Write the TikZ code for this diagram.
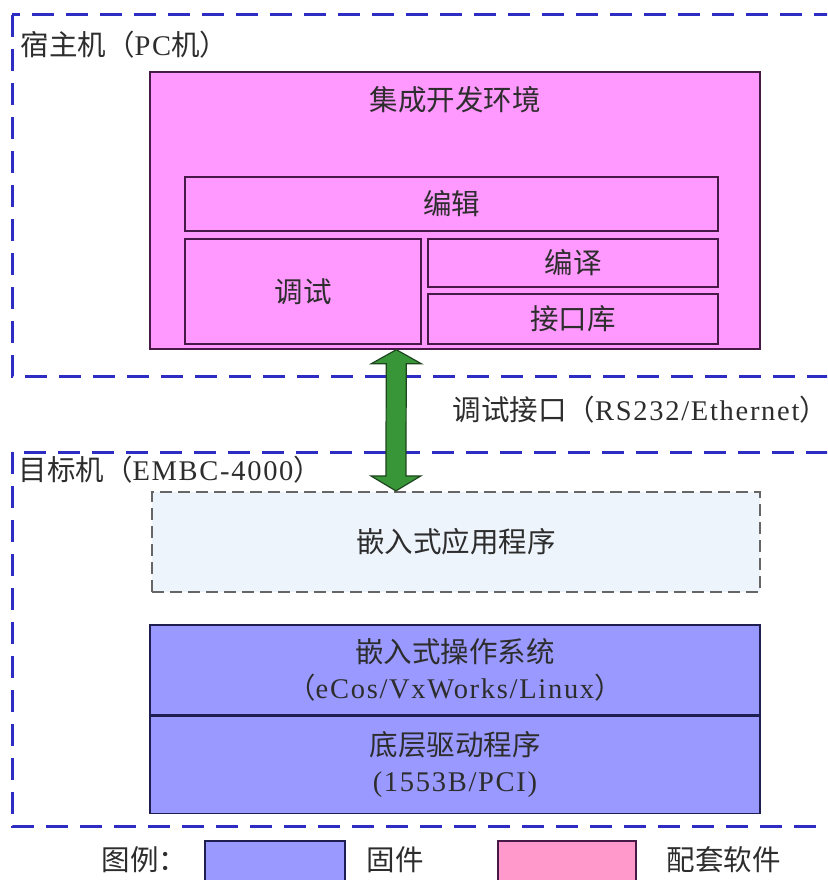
\documentclass[tikz,border=0pt]{standalone}
\usepackage{fontspec}
\setmainfont{Liberation Serif}[LetterSpace=6]
\newfontfamily\cjk{Noto Sans CJK SC}
\usetikzlibrary{calc}
\newcommand\zh[1]{{\cjk #1}}
\definecolor{pinkfill}{RGB}{255,153,255}
\definecolor{legpink}{RGB}{255,153,204}
\definecolor{bluefill}{RGB}{153,153,255}
\definecolor{appfill}{RGB}{238,244,252}
\definecolor{dashblue}{RGB}{45,45,195}
\definecolor{arrgreen}{RGB}{56,150,56}
\definecolor{arrline}{RGB}{30,70,30}
\definecolor{pinkline}{RGB}{70,25,70}
\definecolor{blueline}{RGB}{30,30,80}
\definecolor{txt}{RGB}{45,45,45}
\tikzset{
  every node/.style={text=txt, font=\fontsize{28.5}{32}\selectfont},
  pinkbox/.style={draw=pinkline, fill=pinkfill, line width=1.4pt, inner sep=0pt},
  bluebox/.style={draw=blueline, fill=bluefill, line width=1.4pt, inner sep=0pt, align=center},
  appbox/.style={draw=black!60, fill=appfill, line width=2.2pt, dash pattern=on 12pt off 6pt, inner sep=0pt},
  zone/.style={draw=dashblue, line width=3pt, dash pattern=on 22pt off 12pt},
  legbox/.style={draw=blueline, line width=1.2pt},
}
\begin{document}
\begin{tikzpicture}[x=1pt,y=-1pt]
\useasboundingbox (0,0) rectangle (827,880);
\clip (0,0) rectangle (827,880);
\fill[white] (0,0) rectangle (827,880);
% zones
\draw[zone] (12,15) rectangle (845,376);
\draw[zone] (12,452) rectangle (845,826);
\node[anchor=west] (hostlbl) at (17,45) {\zh{宿主机（}PC\zh{机）}};
\node[anchor=west] (tgtlbl) at (15,470) {\zh{目标机（}EMBC-4000\zh{）}};
% IDE
\node[pinkbox, minimum width=610, minimum height=277] (ide) at (455,210.5) {};
\node (idelbl) at (455,100) {\zh{集成开发环境}};
\node[pinkbox, minimum width=533, minimum height=54] (edit) at (451.5,204) {\zh{编辑}};
\node[pinkbox, minimum width=236, minimum height=105] (debug) at (303,291.5) {\zh{调试}};
\node[pinkbox, minimum width=290, minimum height=48] (comp) at (573,263) {\zh{编译}};
\node[pinkbox, minimum width=290, minimum height=50] (lib) at (573,319) {\zh{接口库}};
% target
\node[appbox, minimum width=608, minimum height=100] (app) at (456,542) {\zh{嵌入式应用程序}};
\node[bluebox, minimum width=610, minimum height=90] (os) at (455,670) {\zh{嵌入式操作系统}\\[4pt]\zh{（}eCos/VxWorks/Linux\zh{）}};
\node[bluebox, minimum width=610, minimum height=97, anchor=north] (drv) at (os.south) {\zh{底层驱动程序}\\[4pt](1553B/PCI)};
% arrow
\coordinate (aTop) at ($(ide.south west)+(247,0)$);
\coordinate (aBot) at ($(app.north west)+(245,0)$);
\draw[draw=arrline, fill=arrgreen, line width=1.2pt, line join=miter]
  (aTop) -- ++(25,14) -- ++(-15,0) -- ($(aBot)+(10,-15)$) -- ++(15,0) -- (aBot)
  -- ++(-25,-15) -- ++(15,0) -- ($(aTop)+(-10,14)$) -- ++(-15,0) -- cycle;
\node[anchor=west, inner sep=0.5pt] (iflbl) at (452,410) {\zh{调试接口（}RS232/Ethernet\zh{）}};
% legend
\node[anchor=west] (leglbl) at (98,860) {\zh{图例：}};
\draw[legbox, fill=bluefill] (205,841) rectangle (345,890);
\node[anchor=west] (fwlbl) at (363,860) {\zh{固件}};
\draw[legbox, fill=legpink, draw=pinkline] (498,841) rectangle (636,890);
\node[anchor=west] (swlbl) at (663,860) {\zh{配套软件}};
\end{tikzpicture}
\end{document}
